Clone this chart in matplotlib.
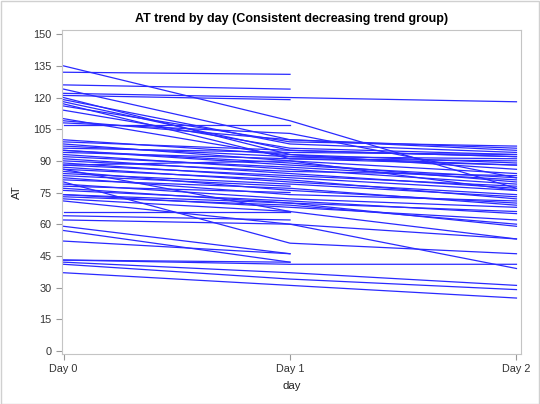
import numpy as np
import matplotlib
matplotlib.use("Agg")
import matplotlib.pyplot as plt

plt.rcParams["font.family"] = ["Liberation Sans", "DejaVu Sans"]

# AT per subject at Day 0 / Day 1 / Day 2 (None = missing visit)
day_labels = ["Day 0", "Day 1", "Day 2"]
at_day0 = [135, 132, 126, 122, 121, 124, 120, 119, 118, 117, 116, 114, 110, 109, 107, 108,
           100, 99, 98, 97, 96, 95, 95, 94, 93, 92, 91, 90, 89, 88, 87, 86, 85, 84, 83, 82,
           81, 80, 79, 78, 77, 76, 74, 73, 72, 71, 74, 88, 86,
           66, 64, 62, 59, 57, 52, 43, 43, 41, 37, 42]
at_day1 = [109, 131, 124, None, 119, 100, 93, 98, 95, 91, 99, 96, 92, 100, 107, 103,
           93, 95, 90, 92, 94, 89, 88, 91, 86, 87, 84, 85, 82, 83, 80, 81, 76, 79, 78, 74,
           77, 51, 72, 75, 70, 71, 68, 69, 66, 60, 70, 90, 66,
           66, 62, 60, 46, 42, 46, 41, 42, 34, 31, 37]
at_day2 = [77, None, None, 118, None, 96, 89, 94, 92, 90, 97, 93, 88, 95, None, 82,
           86, 92, 84, 91, 93, 80, 82, 88, 79, 81, 77, 83, 76, 78, 74, 72, 70, 73, None, 71,
           69, 46, 68, None, 66, 65, 62, 60, None, 39, 59, 76, 53,
           None, None, 53, None, None, None, 41, None, 29, 25, 31]

fig = plt.figure(figsize=(5.4, 4.04), dpi=100)
ax = fig.add_axes([0.1148, 0.1238, 0.85, 0.8019])

for a, b, c in zip(at_day0, at_day1, at_day2):
    xs = [i for i, v in enumerate([a, b, c]) if v is not None]
    ys = [v for v in [a, b, c] if v is not None]
    ax.plot(xs, ys, color="#2a2aff", lw=0.9)

ax.set_xlim(-0.007, 2.02)
ax.set_ylim(-1.5, 152)
ax.set_xticks([0, 1, 2])
ax.set_xticklabels(day_labels)
ax.set_yticks(np.arange(0, 151, 15))

for s in ax.spines.values():
    s.set_color("#c4c4c4")
ax.tick_params(colors="#333333", labelsize=7.8, length=4, width=0.8)
ax.tick_params(axis="both", color="#999999")

ax.set_xlabel("day", fontsize=8.2, color="#222222", labelpad=5)
ax.set_ylabel("AT", fontsize=8.2, color="#222222", labelpad=8)
ax.set_title("AT trend by day (Consistent decreasing trend group)",
             fontsize=9, fontweight="bold", pad=6)

fig.patches.append(plt.Rectangle((0.001, 0.001), 0.997, 0.997, transform=fig.transFigure,
                                 fill=False, edgecolor="#d0d0d0", lw=1))

fig.savefig("out.png", dpi=100)
